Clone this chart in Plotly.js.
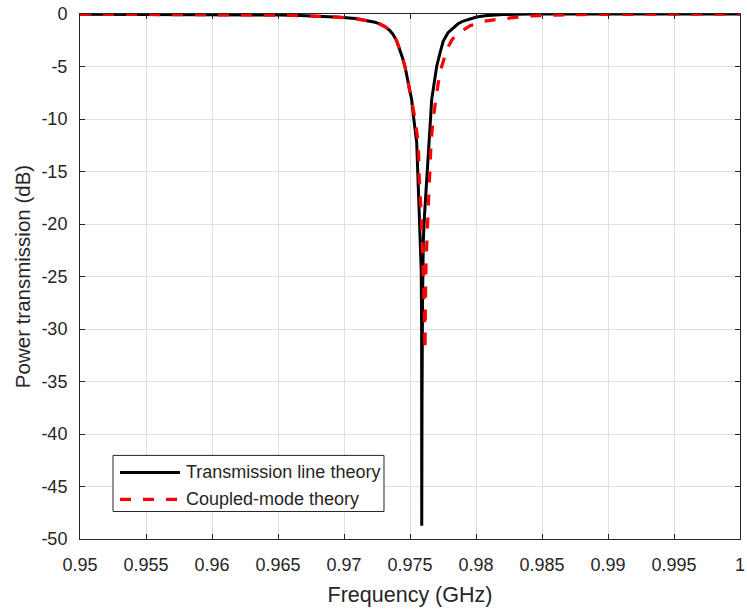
<!DOCTYPE html>
<html>
<head>
<meta charset="utf-8">
<script src="https://cdn.plot.ly/plotly-3.0.1.min.js"></script>
<style>html,body{margin:0;padding:0;background:#fff;}#chart{width:747px;height:611px;}</style>
</head>
<body>
<div id="chart"></div>
<script>
// Transmission line theory (black, solid)
const tlFreq = [0.95000, 0.95500, 0.96000, 0.96288, 0.96515, 0.96667, 0.96818, 0.96970, 0.97083, 0.97172,
  0.97235, 0.97273, 0.97311, 0.97348, 0.97371, 0.97399, 0.97424, 0.97443, 0.97462, 0.97487,
  0.97513, 0.97525, 0.97538, 0.97551, 0.97559, 0.97572, 0.97581, 0.97585, 0.97588, 0.97589,
  0.97591, 0.97595, 0.97601, 0.97610, 0.97626, 0.97644, 0.97655, 0.97664, 0.97684, 0.97702,
  0.97727, 0.97752, 0.97788, 0.97828, 0.97864, 0.97904, 0.97955, 0.98005, 0.98068, 0.98144,
  0.98205, 0.98409, 0.98939, 1.00000];
const tlDb = [-0.02, -0.03, -0.05, -0.07, -0.10, -0.15, -0.22, -0.31, -0.42, -0.59,
  -0.78, -0.97, -1.21, -1.59, -1.93, -2.55, -3.41, -4.17, -5.00, -6.58,
  -8.18, -9.61, -10.85, -12.28, -15.14, -19.15, -21.54, -24.40, -30.12, -48.73,
  -36.80, -27.26, -21.54, -19.15, -15.50, -12.28, -10.09, -8.18, -6.58, -5.00,
  -3.72, -2.58, -1.78, -1.31, -0.93, -0.67, -0.45, -0.29, -0.16, -0.09,
  -0.05, -0.01, -0.005, -0.005];

// Coupled-mode theory (red, dashed)
const cmFreq = [0.95000, 0.95500, 0.96000, 0.96288, 0.96515, 0.96667, 0.96818, 0.96970, 0.97083, 0.97172,
  0.97235, 0.97273, 0.97311, 0.97348, 0.97371, 0.97399, 0.97424, 0.97443, 0.97462, 0.97487,
  0.97513, 0.97533, 0.97563, 0.97570, 0.97583, 0.97593, 0.97602, 0.97610, 0.97614,
  0.97617, 0.97621, 0.97633, 0.97648, 0.97659, 0.97674, 0.97697, 0.97714, 0.97740, 0.97780,
  0.97818, 0.97864, 0.97955, 0.98055, 0.98205, 0.98409, 0.98583, 0.98811, 0.99318, 1.00000];
const cmDb = [-0.02, -0.03, -0.05, -0.07, -0.10, -0.15, -0.22, -0.31, -0.42, -0.59,
  -0.78, -0.97, -1.21, -1.59, -1.93, -2.55, -3.41, -4.17, -5.00, -6.58,
  -8.18, -9.61, -12.31, -15.50, -18.67, -21.54, -25.35, -29.17, -32.03,
  -27.26, -23.92, -20.01, -14.92, -12.47, -10.09, -8.18, -6.58, -5.00, -3.36,
  -2.45, -1.83, -1.12, -0.69, -0.45, -0.19, -0.10, -0.05, -0.02, -0.01];

const seriesNames = ["Transmission line theory", "Coupled-mode theory"];
const xTickVals = [0.95, 0.955, 0.96, 0.965, 0.97, 0.975, 0.98, 0.985, 0.99, 0.995, 1];
const xTickText = ["0.95", "0.955", "0.96", "0.965", "0.97", "0.975", "0.98", "0.985", "0.99", "0.995", "1"];
const yTickVals = [0, -5, -10, -15, -20, -25, -30, -35, -40, -45, -50];
const yTickText = ["0", "-5", "-10", "-15", "-20", "-25", "-30", "-35", "-40", "-45", "-50"];

const FONT = "Liberation Sans, Arial, Helvetica, sans-serif";
const AX = "#262626";

const traces = [
  {x: tlFreq, y: tlDb, type: "scatter", mode: "lines", name: seriesNames[0],
   line: {color: "#000000", width: 3}, showlegend: false},
  {x: cmFreq, y: cmDb, type: "scatter", mode: "lines", name: seriesNames[1],
   line: {color: "#ff0000", width: 3.2, dash: "11px,12px"}, showlegend: false}
];

// manual legend (paper coords)
const lg = {x0: 0.05, x1: 0.4606, y0: 0.0524, y1: 0.1592};
const rows = [0.1268, 0.0753];
const shapes = [
  {type: "rect", xref: "paper", yref: "paper", x0: lg.x0, x1: lg.x1, y0: lg.y0, y1: lg.y1,
   line: {color: AX, width: 1}, fillcolor: "#ffffff", layer: "above"},
  {type: "line", xref: "paper", yref: "paper", x0: 0.0606, x1: 0.1515, y0: rows[0], y1: rows[0],
   line: {color: "#000000", width: 3}, layer: "above"},
  {type: "line", xref: "paper", yref: "paper", x0: 0.0606, x1: 0.1515, y0: rows[1], y1: rows[1],
   line: {color: "#ff0000", width: 3.2, dash: "11px,12px"}, layer: "above"}
];
const annotations = seriesNames.map((n, i) => ({
  text: n, xref: "paper", yref: "paper", x: 0.157, y: rows[i], xanchor: "left", yanchor: "middle",
  showarrow: false, font: {family: FONT, size: 18, color: AX}
}));

const layout = {
  width: 747, height: 611,
  margin: {l: 80, r: 7, t: 14, b: 72, pad: 0},
  paper_bgcolor: "#ffffff", plot_bgcolor: "#ffffff",
  font: {family: FONT, size: 18, color: AX},
  xaxis: {
    range: [0.95, 1], tickvals: xTickVals, ticktext: xTickText,
    showgrid: true, gridcolor: "#dfdfdf", gridwidth: 1, zeroline: false,
    showline: true, linecolor: AX, linewidth: 1, mirror: "ticks",
    ticks: "inside", ticklen: 5, tickcolor: AX, tickwidth: 1,
    tickfont: {family: FONT, size: 18, color: AX}, ticklabelstandoff: 9,
    title: {text: "Frequency (GHz)", font: {family: FONT, size: 21.5, color: AX}, standoff: 13},
    automargin: false
  },
  yaxis: {
    range: [-50, 0], tickvals: yTickVals, ticktext: yTickText,
    showgrid: true, gridcolor: "#dfdfdf", gridwidth: 1, zeroline: false,
    showline: true, linecolor: AX, linewidth: 1, mirror: "ticks",
    ticks: "inside", ticklen: 5, tickcolor: AX, tickwidth: 1,
    tickfont: {family: FONT, size: 18, color: AX}, ticklabelstandoff: 8,
    title: {text: "Power transmission (dB)", font: {family: FONT, size: 20.5, color: AX}, standoff: 5},
    automargin: false
  },
  shapes: shapes,
  annotations: annotations,
  showlegend: false
};

Plotly.newPlot("chart", traces, layout, {displayModeBar: false, staticPlot: true});
</script>
</body>
</html>
